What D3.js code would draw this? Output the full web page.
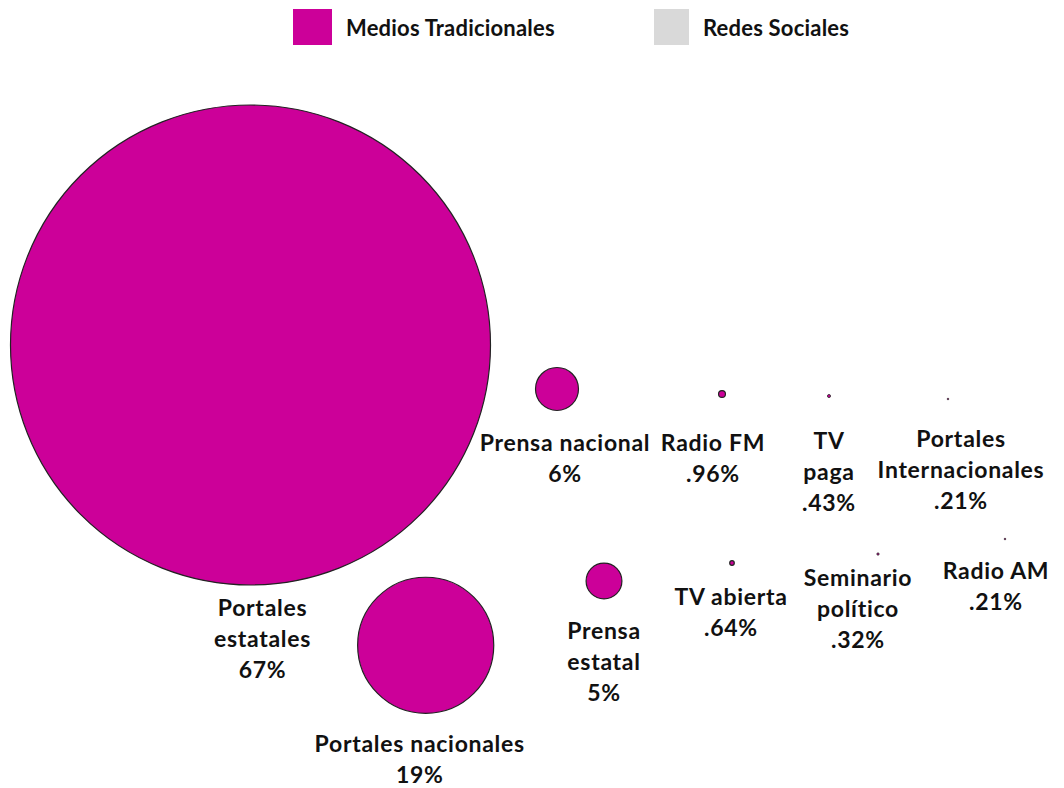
<!DOCTYPE html>
<html>
<head>
<meta charset="utf-8">
<script src="https://cdn.jsdelivr.net/npm/d3@7/dist/d3.min.js"></script>
<style>
  html, body { margin: 0; padding: 0; background: #ffffff; }
  svg { display: block; }
  text { font-family: Lato, "Open Sans", sans-serif; font-weight: 700; fill: #111; }
</style>
</head>
<body>
<svg id="chart" width="1064" height="788"></svg>
<script>
// Media outlets and their share of mentions (%)
const categories = [
  "Portales estatales", "Portales nacionales", "Prensa nacional", "Prensa estatal",
  "Radio FM", "TV abierta", "TV paga", "Seminario político",
  "Portales Internacionales", "Radio AM"
];
const shares = [67, 19, 6, 5, 0.96, 0.64, 0.43, 0.32, 0.21, 0.21];
const shareLabels = ["67%", "19%", "6%", "5%", ".96%", ".64%", ".43%", ".32%", ".21%", ".21%"];
// bubble coordinates (chart units)
const xValues = [2.105, 3.857, 5.17, 5.64, 6.82, 6.92, 7.89, 8.38, 9.08, 9.65];
const yValues = [6.154, 1.534, 5.477, 2.523, 5.40, 2.80, 5.369, 2.938, 5.323, 3.169];
// legend entries
const legendNames = ["Medios Tradicionales", "Redes Sociales"];

// label line breaks
const labelLines = [
  ["Portales", "estatales"], ["Portales nacionales"], ["Prensa nacional"], ["Prensa", "estatal"],
  ["Radio FM"], ["TV abierta"], ["TV", "paga"], ["Seminario", "político"],
  ["Portales", "Internacionales"], ["Radio AM"]
];
// label placement relative to bubble centre
const labelOffsets = [
  [12, 263], [-6, 99], [8, 54], [0, 50], [-9, 49],
  [-1, 34], [0, 45], [-20, 24], [13, 40], [-9, 32]
];

const svg = d3.select("#chart");
const x = d3.scaleLinear().domain([0, 10]).range([40, 1040]);
const y = d3.scaleLinear().domain([0, 10]).range([745, 95]);
// bubble radius proportional to share
const r = d3.scaleLinear().domain([0, 67]).range([0, 240]);

const colors = { trad: "#cc0099", social: "#d9d9d9" };

const data = categories.map((c, i) => ({
  name: c, value: shares[i], label: shareLabels[i],
  x: xValues[i], y: yValues[i], lines: labelLines[i], off: labelOffsets[i]
}));

// bubbles
svg.append("g").selectAll("circle")
  .data(data)
  .join("circle")
  .attr("cx", d => x(d.x))
  .attr("cy", d => y(d.y))
  .attr("r", d => Math.max(r(d.value), 0.8))
  .attr("fill", colors.trad)
  .attr("stroke", "#222")
  .attr("stroke-width", d => r(d.value) < 2 ? 0.8 : 1.2);

// labels
const lineH = 31;
const lbl = svg.append("g").selectAll("text")
  .data(data)
  .join("text")
  .attr("text-anchor", "middle")
  .attr("font-size", 23)
  .attr("letter-spacing", 0.7)
  .attr("transform", d => `translate(${x(d.x) + d.off[0]},${y(d.y) + d.off[1]})`);

lbl.each(function(d) {
  const t = d3.select(this);
  d.lines.concat([d.label]).forEach((s, k) => {
    t.append("tspan").attr("x", 0).attr("y", k * lineH).attr("dy", "0.35em").text(s);
  });
});

// legend
const legend = svg.append("g");
const legendItems = [
  { name: legendNames[0], color: colors.trad, x: 293, w: 39 },
  { name: legendNames[1], color: colors.social, x: 654, w: 35 }
];
legendItems.forEach(it => {
  legend.append("rect").attr("x", it.x).attr("y", 9).attr("width", it.w).attr("height", 36).attr("fill", it.color);
  legend.append("text").attr("x", it.x + it.w + 14).attr("y", 28).attr("dy", "0.35em")
    .attr("font-size", 22).attr("letter-spacing", 0.2).text(it.name);
});
</script>
</body>
</html>
